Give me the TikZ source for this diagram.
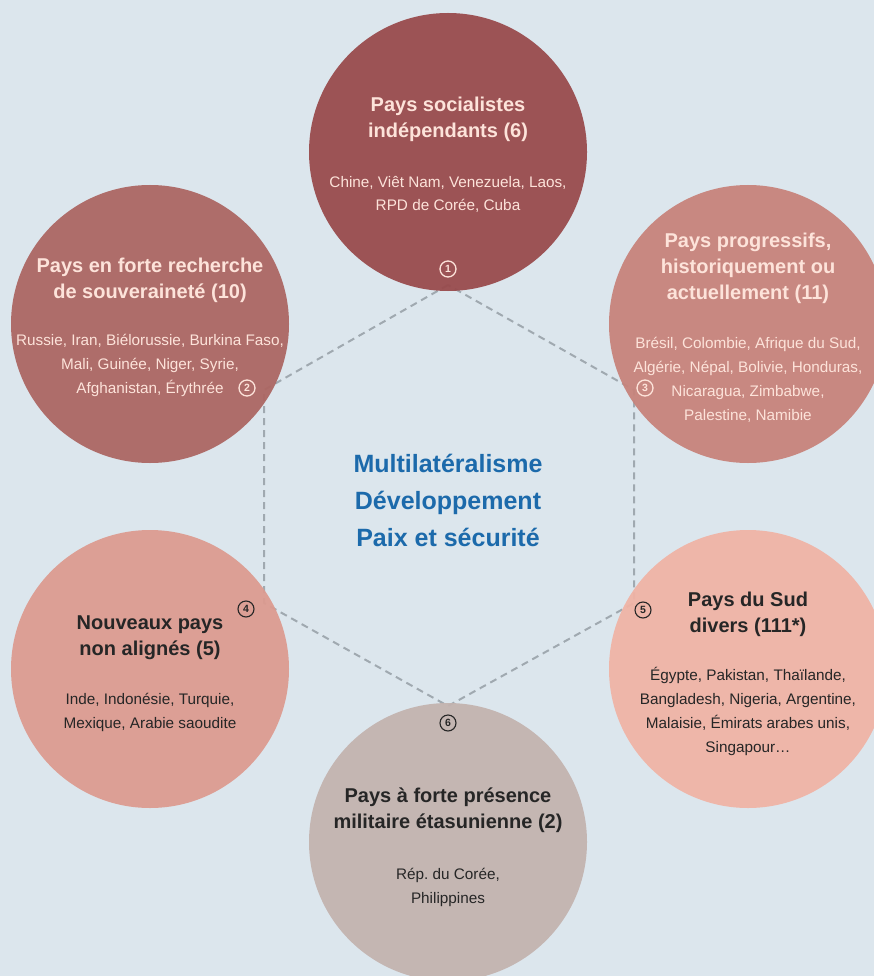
\documentclass[tikz,border=0pt]{standalone}
\usepackage{fontspec}
\setmainfont{Liberation Sans}
\frenchspacing
\definecolor{bgc}{HTML}{DCE6ED}
\definecolor{cA}{HTML}{984A4C}
\definecolor{cB}{HTML}{AC6662}
\definecolor{cC}{HTML}{C7837B}
\definecolor{cD}{HTML}{DC9B90}
\definecolor{cE}{HTML}{F0B3A5}
\definecolor{cF}{HTML}{C3B3AF}
\definecolor{lighttxt}{HTML}{FDE3DA}
\definecolor{darktxt}{HTML}{262626}
\definecolor{bluetxt}{HTML}{1C6AAB}
\definecolor{hexgray}{HTML}{A0A9B0}
\tikzset{
  bubble/.style={circle, minimum size=278pt, inner sep=0pt, draw=none, fill opacity=0.94},
  hexline/.style={draw=hexgray, line width=2pt, dash pattern=on 7pt off 5pt},
  ttl/.style={anchor=base, align=center, font=\bfseries\fontsize{20}{26}\selectfont, inner sep=0pt},
  lst/.style={anchor=base, align=center, font=\fontsize{15.3}{23.7}\selectfont, inner sep=0pt},
  numlight/.style={circle, draw=lighttxt, text=lighttxt, line width=1.3pt, inner sep=0pt, minimum size=16pt, font=\bfseries\fontsize{10.5}{10.5}\selectfont},
  numdark/.style={circle, draw=darktxt, text=darktxt, line width=1.1pt, inner sep=0pt, minimum size=16pt, font=\bfseries\fontsize{10.5}{10.5}\selectfont},
}
\begin{document}
\begin{tikzpicture}[x=1pt,y=-1pt]
\fill[bgc] (0,0) rectangle (874,976);
\useasboundingbox (0,0) rectangle (874,976);
% hexagon
\coordinate (h1) at (448,285);
\coordinate (h2) at (264,390);
\coordinate (h3) at (264,603);
\coordinate (h4) at (448,706);
\coordinate (h5) at (634,603);
\coordinate (h6) at (634,390);
\draw[hexline] (h1) -- (h2) -- (h3) -- (h4) -- (h5) -- (h6) -- cycle;
% circles
\node[bubble, fill=cA] (c1) at (448,152) {};
\node[bubble, fill=cB] (c2) at (150,324) {};
\node[bubble, fill=cC] (c3) at (748,324) {};
\node[bubble, fill=cD] (c4) at (150,669) {};
\node[bubble, fill=cE] (c5) at (748,669) {};
\node[bubble, fill=cF] (c6) at (448,842) {};
% center
\node[anchor=base, align=center, inner sep=0pt, text=bluetxt, font=\bfseries\fontsize{25}{37}\selectfont] (ctr) at (448,546) {Multilatéralisme\\Développement\\Paix et sécurité};
% circle 1
\node[ttl, text=lighttxt] (t1) at (448,138) {Pays socialistes\\indépendants (6)};
\node[lst, text=lighttxt] (l1) at (448,211) {Chine, Viêt Nam, Venezuela, Laos,\\RPD de Corée, Cuba};
% circle 2
\node[ttl, text=lighttxt] (t2) at (150,298) {Pays en forte recherche\\de souveraineté (10)};
\node[lst, text=lighttxt] (l2) at (150,393) {Russie, Iran, Biélorussie, Burkina Faso,\\Mali, Guinée, Niger, Syrie,\\Afghanistan, Érythrée};
% circle 3
\node[ttl, text=lighttxt] (t3) at (748,299) {Pays progressifs,\\historiquement ou\\actuellement (11)};
\node[lst, text=lighttxt] (l3) at (748,420) {Brésil, Colombie, Afrique du Sud,\\Algérie, Népal, Bolivie, Honduras,\\Nicaragua, Zimbabwe,\\Palestine, Namibie};
% circle 4
\node[ttl, text=darktxt] (t4) at (150,655) {Nouveaux pays\\non alignés (5)};
\node[lst, text=darktxt] (l4) at (150,728) {Inde, Indonésie, Turquie,\\Mexique, Arabie saoudite};
% circle 5
\node[ttl, text=darktxt] (t5) at (748,632) {Pays du Sud\\divers (111*)};
\node[lst, text=darktxt] (l5) at (748,752) {Égypte, Pakistan, Thaïlande,\\Bangladesh, Nigeria, Argentine,\\Malaisie, Émirats arabes unis,\\Singapour…};
% circle 6
\node[ttl, text=darktxt] (t6) at (448,828) {Pays à forte présence\\militaire étasunienne (2)};
\node[lst, text=darktxt] (l6) at (448,903) {Rép. du Corée,\\Philippines};
% numbers
\node[numlight] (n1) at (448,269) {1};
\node[numlight] (n2) at (247,388) {2};
\node[numlight] (n3) at (645,388) {3};
\node[numdark] (n4) at (246,609) {4};
\node[numdark] (n5) at (643,610) {5};
\node[numdark] (n6) at (448,723) {6};
\end{tikzpicture}
\end{document}
